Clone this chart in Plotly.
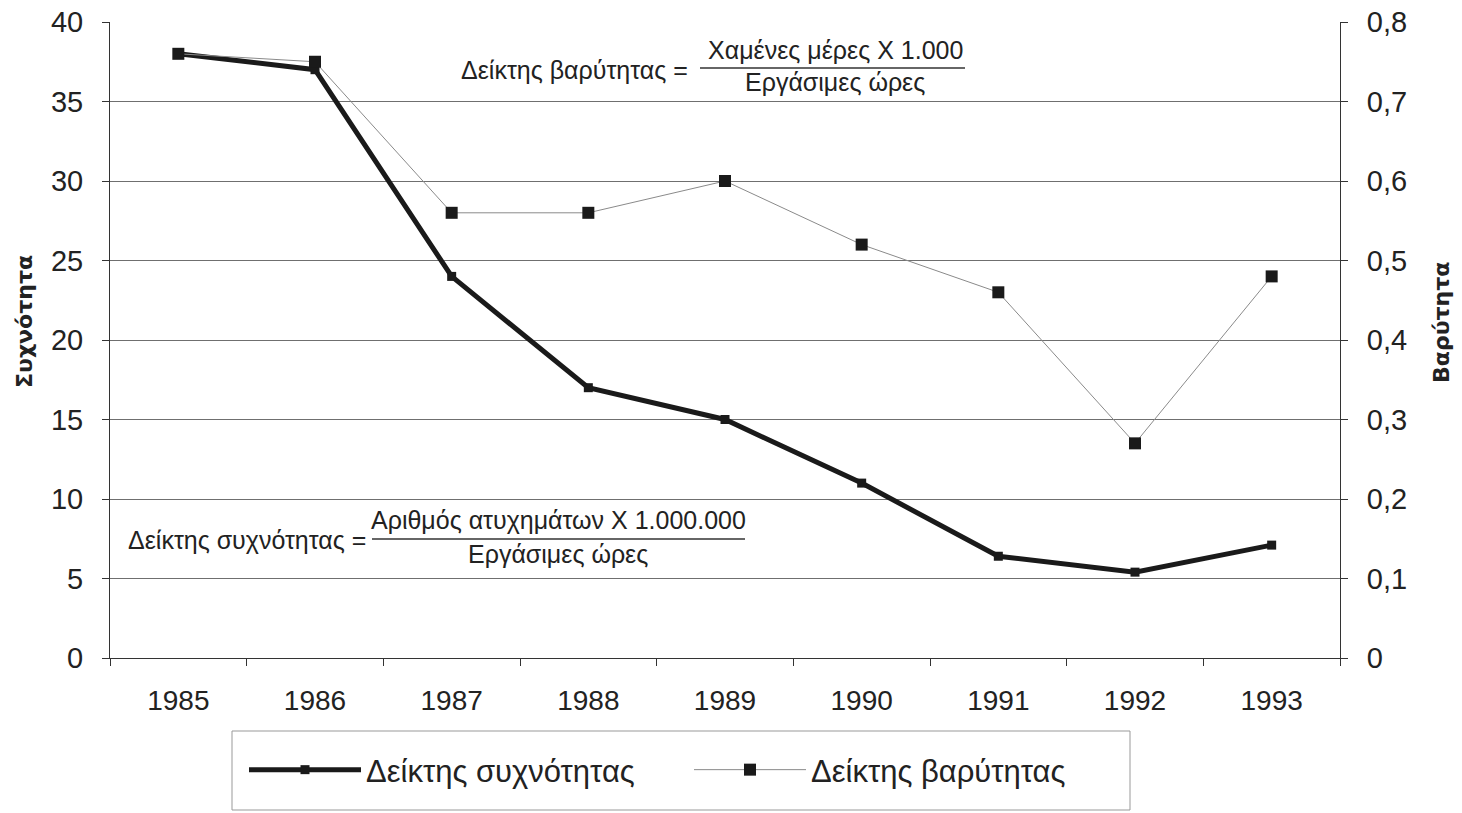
import plotly.graph_objects as go

years = ["1985", "1986", "1987", "1988", "1989", "1990", "1991", "1992", "1993"]
frequency = [38, 37, 24, 17, 15, 11, 6.4, 5.4, 7.1]
severity = [0.76, 0.75, 0.56, 0.56, 0.60, 0.52, 0.46, 0.27, 0.48]

left_ticks = [0, 5, 10, 15, 20, 25, 30, 35, 40]
right_tickvals = [0, 0.1, 0.2, 0.3, 0.4, 0.5, 0.6, 0.7, 0.8]
right_ticktext = ["0", "0,1", "0,2", "0,3", "0,4", "0,5", "0,6", "0,7", "0,8"]

name_freq = "Δείκτης συχνότητας"
name_sev = "Δείκτης βαρύτητας"
left_title = "Συχνότητα"
right_title = "Βαρύτητα"

TXT = "Liberation Sans, Arial, sans-serif"
TTL = "DejaVu Sans, sans-serif"

W, H = 1462, 813
ML, MR, MT, MB = 110, 122, 22, 155
PW, PH = W - ML - MR, H - MT - MB


def px(x):
    """page pixel x -> paper fraction"""
    return (x - ML) / PW


def py(y):
    """page pixel y -> paper fraction"""
    return (H - MB - y) / PH


fig = go.Figure()
fig.add_trace(go.Scatter(
    x=years, y=frequency, name=name_freq, mode="lines+markers",
    line=dict(color="#1a1a1a", width=5),
    marker=dict(symbol="square", size=9, color="#1a1a1a"),
    yaxis="y",
))
fig.add_trace(go.Scatter(
    x=years, y=severity, name=name_sev, mode="lines+markers",
    line=dict(color="#8a8a8a", width=1),
    marker=dict(symbol="square", size=12, color="#1a1a1a"),
    yaxis="y2",
))

ann = []
shapes = []
AF = dict(family=TXT, size=25, color="#222")


def formula(label, num, den, lx_right, cx, ly, num_y, den_y, bar_x0, bar_x1, bar_y):
    ann.append(dict(text=label, x=px(lx_right), y=py(ly), xref="paper", yref="paper",
                    xanchor="right", yanchor="middle", showarrow=False, font=AF))
    ann.append(dict(text=num, x=px(cx), y=py(num_y), xref="paper", yref="paper",
                    xanchor="center", yanchor="middle", showarrow=False, font=AF))
    ann.append(dict(text=den, x=px(cx), y=py(den_y), xref="paper", yref="paper",
                    xanchor="center", yanchor="middle", showarrow=False, font=AF))
    shapes.append(dict(type="line", xref="paper", yref="paper",
                       x0=px(bar_x0), x1=px(bar_x1), y0=py(bar_y), y1=py(bar_y),
                       line=dict(color="#333", width=1.5)))


formula("Δείκτης βαρύτητας =", "Χαμένες μέρες X 1.000", "Εργάσιμες ώρες",
        690, 835, 70, 50, 82, 700, 965, 68)
formula("Δείκτης συχνότητας =", "Αριθμός ατυχημάτων X 1.000.000", "Εργάσιμες ώρες",
        368, 558, 540, 520, 554, 372, 745, 539)

# axis titles (placed as in the reference, slightly above the plot's middle)
TF = dict(family=TTL, size=22, color="#222")
ann.append(dict(text="<b>" + left_title + "</b>", x=px(24), y=py(322), xref="paper", yref="paper",
                xanchor="center", yanchor="middle", textangle=-90, showarrow=False, font=TF))
ann.append(dict(text="<b>" + right_title + "</b>", x=px(1442), y=py(323), xref="paper", yref="paper",
                xanchor="center", yanchor="middle", textangle=-90, showarrow=False, font=TF))

# legend frame
shapes.append(dict(type="rect", xref="paper", yref="paper",
                   x0=px(232), x1=px(1130), y0=py(731), y1=py(810),
                   line=dict(color="#999", width=1), fillcolor="white", layer="below"))

fig.update_layout(
    width=W, height=H,
    margin=dict(l=ML, r=MR, t=MT, b=MB, autoexpand=False),
    paper_bgcolor="white", plot_bgcolor="white",
    font=dict(family=TXT, color="#222"),
    xaxis=dict(
        type="category", tickson="boundaries", ticks="outside", ticklen=7,
        tickcolor="#333", showline=True, linecolor="#333", linewidth=1,
        showgrid=False, tickfont=dict(family=TXT, size=28, color="#222"),
        range=[-0.5, 8.5], automargin=False, ticklabelstandoff=17,
    ),
    yaxis=dict(
        range=[0, 40], tickvals=left_ticks, ticks="outside", ticklen=7,
        tickcolor="#333", showline=True, linecolor="#333", linewidth=1,
        showgrid=True, gridcolor="#6f6f6f", gridwidth=1,
        zeroline=False, automargin=False, ticklabelstandoff=13,
        ticklabeloverflow="allow",
        tickfont=dict(family=TXT, size=29, color="#222"),
    ),
    yaxis2=dict(
        range=[0, 0.8], tickvals=right_tickvals, ticktext=right_ticktext,
        overlaying="y", side="right", ticks="outside", ticklen=7,
        tickcolor="#333", showline=True, linecolor="#333", linewidth=1,
        showgrid=False, zeroline=False, automargin=False, ticklabelstandoff=13,
        ticklabeloverflow="allow",
        tickfont=dict(family=TXT, size=29, color="#222"),
    ),
    legend=dict(
        orientation="h", x=px(244), y=py(770), xanchor="left", yanchor="middle",
        bgcolor="rgba(0,0,0,0)", borderwidth=0,
        font=dict(family=TXT, size=31, color="#222"),
        entrywidth=318, itemwidth=112,
    ),
    annotations=ann,
    shapes=shapes,
    showlegend=True,
)

fig.write_html(
    "out.html",
    config={"displayModeBar": False},
    post_script="document.body.style.margin='0';document.body.style.overflow='hidden';",
)
